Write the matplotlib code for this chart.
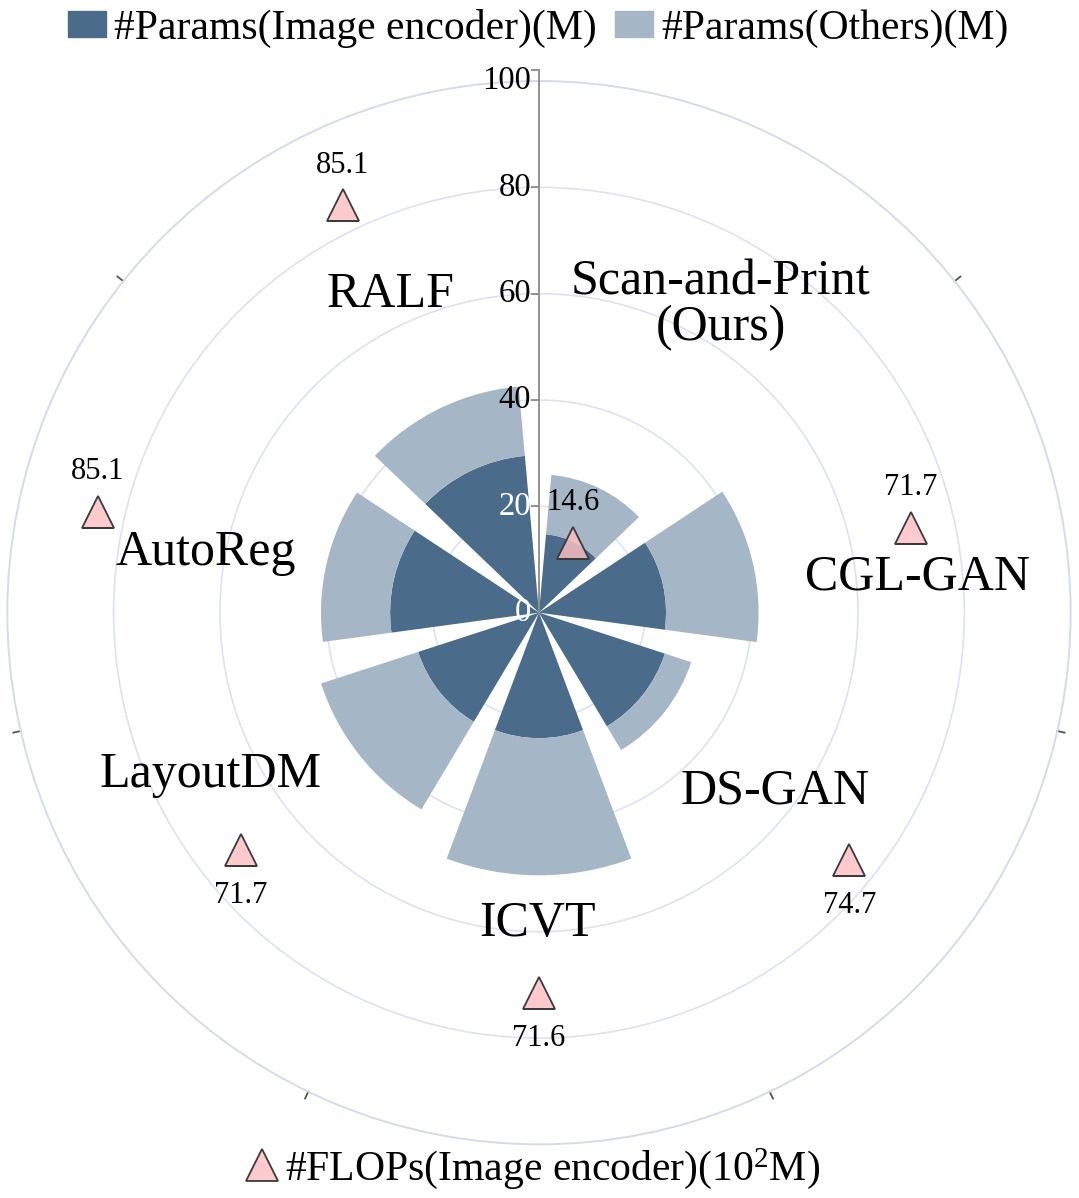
import matplotlib.pyplot as plt
import numpy as np
from matplotlib.patches import Patch
from matplotlib.lines import Line2D

plt.rcParams['font.family'] = ['Liberation Serif', 'DejaVu Serif']
plt.rcParams['mathtext.fontset'] = 'custom'
plt.rcParams['mathtext.rm'] = 'Liberation Serif'
plt.rcParams['mathtext.it'] = 'Liberation Serif:italic'

# Datos
modelos = ['Scan-and-Print\n(Ours)', 'CGL-GAN', 'DS-GAN', 'ICVT', 'LayoutDM', 'AutoReg', 'RALF']
params_encoder = [14.8, 23.9, 24.9, 23.6, 23.9, 28.0, 29.6]
params_otros = [11.2, 17.4, 5.2, 25.8, 19.2, 13.0, 13.1]
flops = [14.6, 71.7, 74.7, 71.6, 71.7, 85.1, 85.1]
etiqueta_arriba = [True, True, False, False, False, True, True]
r_ticks = [0, 20, 40, 60, 80, 100]

# posicion de los nombres (grados, radio)
pos_nombres = [(30.6, 67.2), (84.6, 71.5), (127.1, 55.6), (180.2, 58.5),
               (243.7, 69.0), (280.2, 63.6), (335.0, 65.9)]

color_oscuro = '#4a6c8a'
color_claro = '#a5b6c6'
color_tri = (1.0, 0.75, 0.76, 0.82)
color_grid = '#dde2f0'

fig = plt.figure(figsize=(10.79, 11.98), dpi=100)
ax = fig.add_axes([0.00677, 0.04474, 0.9855, 0.8877], projection='polar')
ax.set_theta_zero_location('N')
ax.set_theta_direction(-1)

n = len(modelos)
sector = 2 * np.pi / n
theta = sector * (np.arange(n) + 0.5)

ax.bar(theta, params_encoder, width=0.8 * sector, color=color_oscuro, zorder=2)
ax.bar(theta, params_otros, width=0.8 * sector, bottom=params_encoder, color=color_claro, zorder=2)

ax.plot(theta, flops, ls='none', marker='^', ms=23, mfc=color_tri, mec='#3a3a3a', mew=1.3, zorder=4)
for t, f, arriba in zip(theta, flops, etiqueta_arriba):
    ax.annotate(f'{f}', xy=(t, f), xytext=(0, 23.4 if arriba else -38.2), textcoords='offset points',
                ha='center', va='baseline', fontsize=22, zorder=5)

for (ang, r), nombre in zip(pos_nombres, modelos):
    ax.text(np.deg2rad(ang), r, nombre, ha='center', va='center', fontsize=36, linespacing=1.0, zorder=5)

ax.set_ylim(0, 100)
ax.set_yticks([20, 40, 60, 80])
ax.set_yticklabels([])
ax.set_xticks([])
ax.yaxis.grid(True, color=color_grid, lw=1.2)
ax.spines['polar'].set_color('#d6dbea')
ax.spines['polar'].set_linewidth(1.4)

# eje radial
ax.plot([0, 0], [0, 102], color='#8a8a8a', lw=1.3, clip_on=False, zorder=3)
ax.plot(np.zeros(len(r_ticks) - 1), r_ticks[1:-1] + [102], ls='none', marker=[(-1, 0), (0, 0)],
        ms=11.5, mec='#8a8a8a', mew=1.3, clip_on=False, zorder=3)
for r in r_ticks:
    ax.annotate(str(r), xy=(0, r), xytext=(-5.5, 0), textcoords='offset points', ha='right', va='center',
                fontsize=23.5, color='white' if r <= 20 else 'black', zorder=5)

# marcas angulares
for k in range(1, n):
    ax.plot([k * sector, k * sector], [100, 101.4], color='#555555', lw=1.3, clip_on=False)

handles_top = [Patch(color=color_oscuro, label='#Params(Image encoder)(M)'),
               Patch(color=color_claro, label='#Params(Others)(M)')]
fig.legend(handles=handles_top, loc='center', bbox_to_anchor=(0.499, 0.9766), ncol=2, frameon=False,
           fontsize=30, handlelength=0.9, handleheight=0.6, handletextpad=0.2, columnspacing=0.45)

handles_bot = [Line2D([], [], ls='none', marker='^', ms=23, mfc=color_tri, mec='#3a3a3a', mew=1.3,
                      label='#FLOPs(Image encoder)(1$0^2$M)')]
fig.legend(handles=handles_bot, loc='center', bbox_to_anchor=(0.492, 0.025), frameon=False,
           fontsize=30, handlelength=1.0, handletextpad=0.05)

plt.savefig('out.png', dpi=100)
